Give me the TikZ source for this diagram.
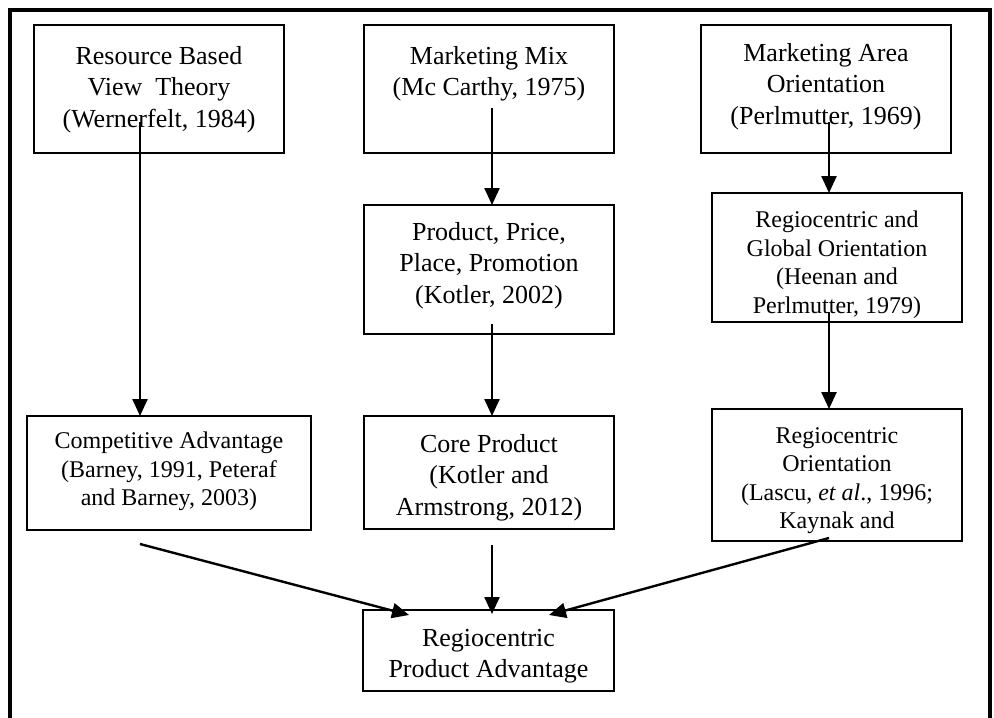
\documentclass[tikz,border=0pt]{standalone}
\usepackage{fontspec}
\setmainfont{Liberation Serif}
\usetikzlibrary{arrows.meta}
\begin{document}
\begin{tikzpicture}[x=1pt,y=-1pt,
  box/.style={draw=black,line width=2pt,inner sep=0pt},
  bigtxt/.style={anchor=north,align=center,inner sep=0pt,font=\fontsize{26}{31.5}\selectfont},
  smalltxt/.style={anchor=north,align=center,inner sep=0pt,font=\fontsize{24}{28.5}\selectfont},
  conn/.style={line width=2.4pt,-{Triangle[length=17pt,width=15pt]}},
  frame/.style={draw=black,line width=3.8pt}]
\useasboundingbox (0,0) rectangle (994,718);
\fill[white] (0,0) rectangle (994,718);
\draw[frame] (10,740) -- (10,10) -- (990,10) -- (990,740);
% boxes
\node[box,minimum width=250pt,minimum height=128pt] (A) at (159,89) {};
\node[box,minimum width=250pt,minimum height=128pt] (B) at (489,89) {};
\node[box,minimum width=250pt,minimum height=128pt] (C) at (826,89) {};
\node[box,minimum width=250pt,minimum height=129pt] (D) at (489,269.5) {};
\node[box,minimum width=250pt,minimum height=129pt] (E) at (837,257.5) {};
\node[box,minimum width=284pt,minimum height=114pt] (F) at (169,473) {};
\node[box,minimum width=250pt,minimum height=113pt] (G) at (489,472.5) {};
\node[box,minimum width=250pt,minimum height=132pt] (H) at (837,475) {};
\node[box,minimum width=251pt,minimum height=81pt] (I) at (488.5,650.5) {};
% texts
\node[bigtxt] (At) at (159,46) {Resource Based\\View\ \ Theory\\(Wernerfelt, 1984)};
\node[bigtxt] (Bt) at (489,46) {Marketing Mix\\(Mc Carthy, 1975)};
\node[bigtxt] (Ct) at (826,43) {Marketing Area\\Orientation\\(Perlmutter, 1969)};
\node[bigtxt] (Dt) at (489,222) {Product, Price,\\Place, Promotion\\(Kotler, 2002)};
\begin{scope}
\clip (E.south west) rectangle (E.north east);
\node[smalltxt] (Et) at (837,211) {Regiocentric and\\Global Orientation\\(Heenan and\\Perlmutter, 1979)};
\end{scope}
\node[smalltxt] (Ft) at (169,432) {Competitive Advantage\\(Barney, 1991, Peteraf\\and Barney, 2003)};
\node[bigtxt] (Gt) at (489,434) {Core Product\\(Kotler and\\Armstrong, 2012)};
\begin{scope}
\clip (H.south west) rectangle (H.north east);
\node[smalltxt] (Ht) at (837,427) {Regiocentric\\Orientation\\(Lascu, \textit{et al}., 1996;\\Kaynak and};
\end{scope}
\node[bigtxt] (It) at (488.5,629) {Regiocentric\\Product Advantage};
% connector end points
\coordinate (a1) at (140,122);
\coordinate (a2) at (140,416);
\coordinate (b1) at (492,108);
\coordinate (b2) at (492,205);
\coordinate (c1) at (829,122);
\coordinate (c2) at (829,193);
\coordinate (d1) at (492,324);
\coordinate (d2) at (492,416);
\coordinate (e1) at (829,312);
\coordinate (e2) at (829,409);
\coordinate (f1) at (140,544);
\coordinate (f2) at (409,615);
\coordinate (g1) at (492,545);
\coordinate (g2) at (492,614);
\coordinate (h1) at (829,538);
\coordinate (h2) at (549,615);
% connectors
\draw[conn] (a1) -- (a2);
\draw[conn] (b1) -- (b2);
\draw[conn] (c1) -- (c2);
\draw[conn] (d1) -- (d2);
\draw[conn] (e1) -- (e2);
\draw[conn] (f1) -- (f2);
\draw[conn] (g1) -- (g2);
\draw[conn] (h1) -- (h2);
\end{tikzpicture}
\end{document}
